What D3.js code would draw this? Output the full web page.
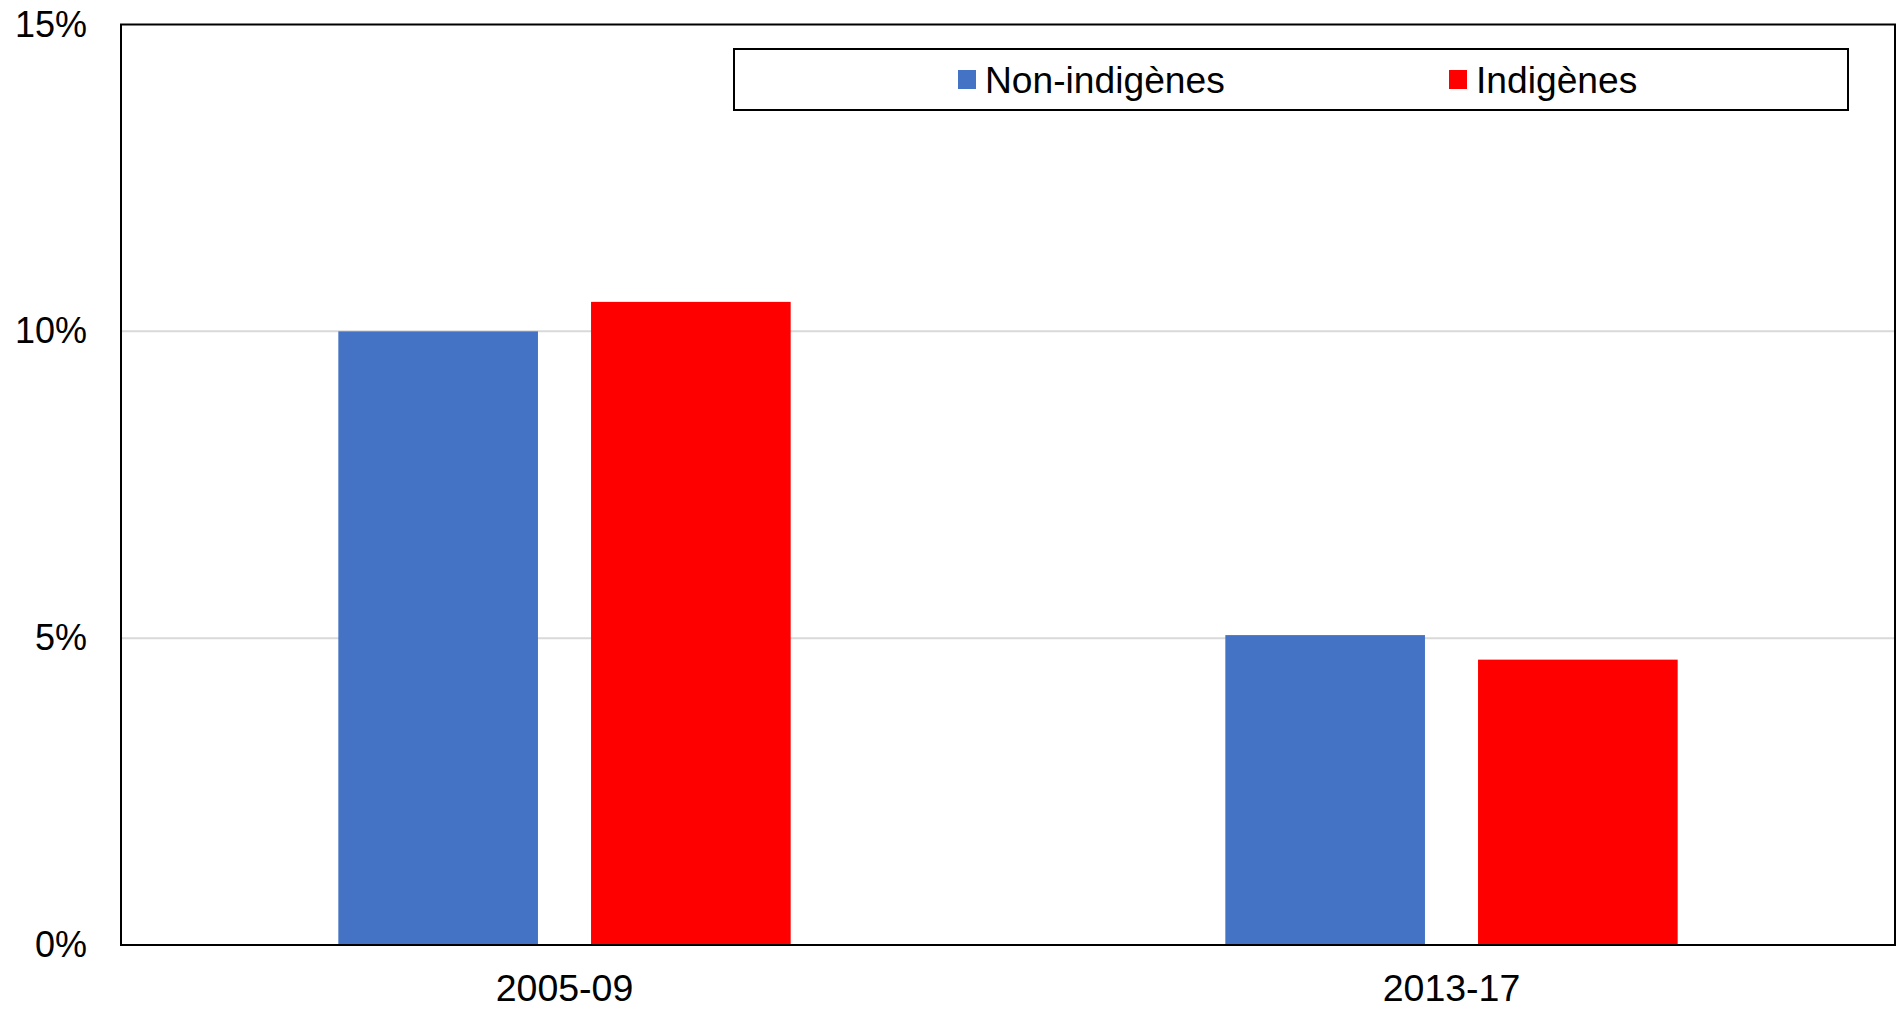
<!DOCTYPE html>
<html>
<head>
<meta charset="utf-8">
<script src="https://cdn.jsdelivr.net/npm/d3@7"></script>
<style>
  body { margin: 0; background: #fff; }
  svg { display: block; font-family: "Liberation Sans", Arial, sans-serif; }
</style>
</head>
<body>
<svg></svg>
<script>
const periods = ['2005-09', '2013-17'];
const seriesNames = ['Non-indigènes', 'Indigènes'];
const seriesColors = ['#4472C4', '#FF0000'];
const nonIndigenous = [10.0, 5.05];
const indigenous = [10.48, 4.65];
const yTicks = [0, 5, 10, 15];

const data = periods.map((p, i) => ({
    period: p,
    values: [nonIndigenous[i], indigenous[i]]
}));

const svgWidth = 1896;
const svgHeight = 1009;
const margin = { top: 24.5, right: 1, bottom: 64, left: 121 };
const width = svgWidth - margin.left - margin.right;
const height = svgHeight - margin.top - margin.bottom;

const svg = d3.select('svg')
    .attr('width', svgWidth)
    .attr('height', svgHeight)
    .append('g')
    .attr('transform', `translate(${margin.left}, ${margin.top})`);

const x0 = d3.scaleBand()
    .domain(periods)
    .range([0, width])
    .padding(0);

const x1 = d3.scaleBand()
    .domain(seriesNames)
    .range([0, x0.bandwidth()])
    .paddingInner(0.21)
    .paddingOuter(0.86);

const y = d3.scaleLinear()
    .domain([0, 15])
    .range([height, 0]);

// gridlines
svg.append('g')
    .selectAll('line')
    .data(yTicks.filter(t => t > 0 && t < 15))
    .enter().append('line')
    .attr('x1', 0)
    .attr('x2', width)
    .attr('y1', d => y(d))
    .attr('y2', d => y(d))
    .attr('stroke', '#D9D9D9')
    .attr('stroke-width', 2);

// bars
const groups = svg.selectAll('.group')
    .data(data)
    .enter().append('g')
    .attr('class', 'group')
    .attr('transform', d => `translate(${x0(d.period)}, 0)`);

groups.selectAll('rect')
    .data(d => d.values.map((v, i) => ({ name: seriesNames[i], value: v, color: seriesColors[i] })))
    .enter().append('rect')
    .attr('x', d => x1(d.name))
    .attr('y', d => y(d.value))
    .attr('width', x1.bandwidth())
    .attr('height', d => height - y(d.value))
    .attr('fill', d => d.color);

// plot frame
svg.append('rect')
    .attr('x', 0)
    .attr('y', 0)
    .attr('width', width)
    .attr('height', height)
    .attr('fill', 'none')
    .attr('stroke', '#000')
    .attr('stroke-width', 2);

// y axis labels
const yAxis = svg.append('g')
    .call(d3.axisLeft(y).tickValues(yTicks).tickFormat(d => d + '%').tickSize(0).tickPadding(34));
yAxis.select('.domain').remove();
yAxis.selectAll('text')
    .attr('font-size', '36px')
    .attr('font-family', '"Liberation Sans", Arial, sans-serif')
    .attr('fill', '#000');

// x axis labels
const xAxis = svg.append('g')
    .attr('transform', `translate(0, ${height})`)
    .call(d3.axisBottom(x0).tickSize(0).tickPadding(29));
xAxis.select('.domain').remove();
xAxis.selectAll('text')
    .attr('font-size', '37.5px')
    .attr('font-family', '"Liberation Sans", Arial, sans-serif')
    .attr('fill', '#000');

// legend
const legend = svg.append('g')
    .attr('transform', `translate(${734 - margin.left}, ${49 - margin.top})`);

legend.append('rect')
    .attr('x', 0)
    .attr('y', 0)
    .attr('width', 1114)
    .attr('height', 61)
    .attr('fill', '#fff')
    .attr('stroke', '#000')
    .attr('stroke-width', 2);

const legendX = [224, 715];
const items = legend.selectAll('.item')
    .data(seriesNames)
    .enter().append('g')
    .attr('class', 'item')
    .attr('transform', (d, i) => `translate(${legendX[i]}, 0)`);

items.append('rect')
    .attr('x', 0)
    .attr('y', 21)
    .attr('width', 18)
    .attr('height', 19)
    .attr('fill', (d, i) => seriesColors[i]);

items.append('text')
    .attr('x', 27)
    .attr('y', 30.5)
    .attr('dy', '0.35em')
    .attr('font-size', '37.2px')
    .attr('fill', '#000')
    .text(d => d);
</script>
</body>
</html>
